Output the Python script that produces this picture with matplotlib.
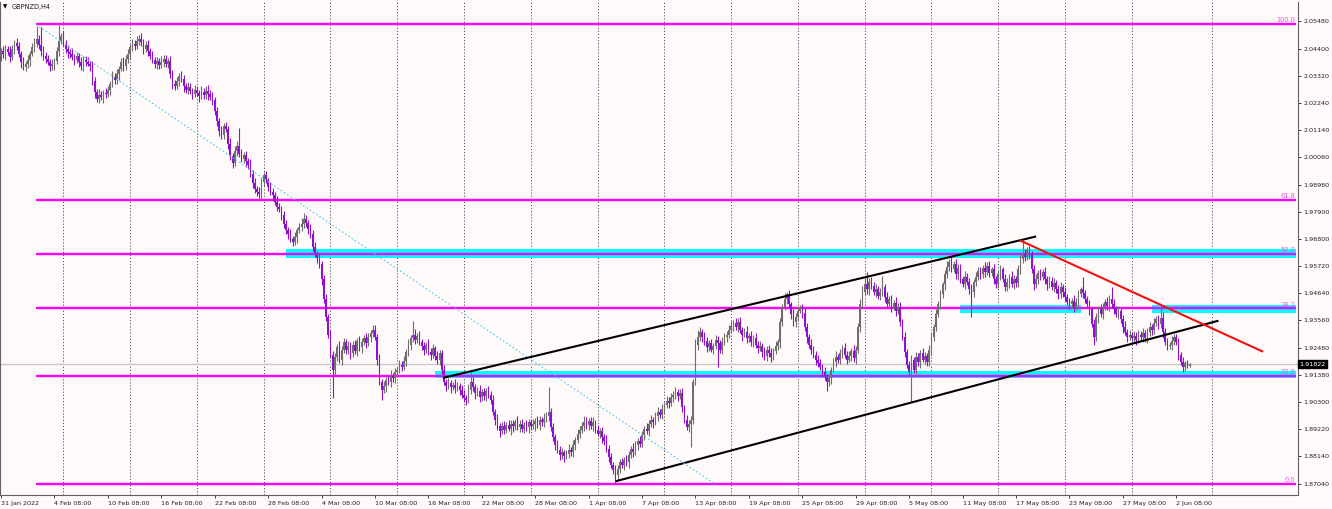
import matplotlib
matplotlib.use("Agg")
import matplotlib.pyplot as plt
import numpy as np

# GBPNZD H4 closes, one per bar (bar 0 = 31 Jan 2022 00:00)
closes = [
    2.0425, 2.0410, 2.0432, 2.0418, 2.0440, 2.0428, 2.0405, 2.0440, 2.0462, 2.0450,
    2.0420, 2.0385, 2.0368, 2.0378, 2.0395, 2.0420, 2.0445, 2.0460, 2.0478, 2.0455,
    2.0430, 2.0410, 2.0398, 2.0385, 2.0370, 2.0378, 2.0390, 2.0430, 2.0470, 2.0490,
    2.0460, 2.0440, 2.0425, 2.0418, 2.0405, 2.0395, 2.0410, 2.0385, 2.0372, 2.0395,
    2.0388, 2.0380, 2.0370, 2.0310, 2.0265, 2.0240, 2.0255, 2.0245, 2.0262, 2.0258,
    2.0275, 2.0300, 2.0328, 2.0315, 2.0340, 2.0360, 2.0385, 2.0370, 2.0400, 2.0420,
    2.0445, 2.0460, 2.0450, 2.0472, 2.0480, 2.0465, 2.0440, 2.0455, 2.0430, 2.0410,
    2.0395, 2.0380, 2.0390, 2.0375, 2.0385, 2.0398, 2.0380, 2.0390, 2.0340, 2.0300,
    2.0290, 2.0310, 2.0330, 2.0320, 2.0290, 2.0275, 2.0285, 2.0270, 2.0260, 2.0275,
    2.0262, 2.0250, 2.0268, 2.0255, 2.0270, 2.0258, 2.0245, 2.0235, 2.0190, 2.0150,
    2.0110, 2.0095, 2.0130, 2.0120, 2.0060, 2.0010, 1.9985, 2.0030, 2.0050, 2.0020,
    2.0000, 2.0015, 1.9990, 1.9975, 1.9940, 1.9905, 1.9880, 1.9870, 1.9860, 1.9910,
    1.9935, 1.9915, 1.9890, 1.9870, 1.9855, 1.9830, 1.9810, 1.9800, 1.9775, 1.9740,
    1.9715, 1.9700, 1.9680, 1.9670, 1.9690, 1.9715, 1.9730, 1.9740, 1.9760, 1.9745,
    1.9720, 1.9700, 1.9650, 1.9620, 1.9605, 1.9580, 1.9520, 1.9440, 1.9370, 1.9300,
    1.9220, 1.9160, 1.9210, 1.9250, 1.9200, 1.9240, 1.9270, 1.9240, 1.9255, 1.9225,
    1.9260, 1.9235, 1.9275, 1.9250, 1.9270, 1.9285, 1.9265, 1.9290, 1.9305, 1.9320,
    1.9290, 1.9200, 1.9110, 1.9080, 1.9095, 1.9120, 1.9110, 1.9135, 1.9125, 1.9150,
    1.9160, 1.9180, 1.9170, 1.9195, 1.9230, 1.9260, 1.9285, 1.9300, 1.9280, 1.9295,
    1.9270, 1.9255, 1.9240, 1.9260, 1.9230, 1.9220, 1.9245, 1.9215, 1.9200, 1.9225,
    1.9160, 1.9110, 1.9095, 1.9105, 1.9090, 1.9100, 1.9085, 1.9095, 1.9080, 1.9060,
    1.9045, 1.9040, 1.9080, 1.9110, 1.9090, 1.9065, 1.9075, 1.9050, 1.9070, 1.9055,
    1.9075, 1.9060, 1.9040, 1.8990, 1.8960, 1.8935, 1.8915, 1.8935, 1.8920, 1.8940,
    1.8925, 1.8945, 1.8935, 1.8950, 1.8930, 1.8945, 1.8925, 1.8940, 1.8930, 1.8950,
    1.8935, 1.8945, 1.8955, 1.8940, 1.8960, 1.8950, 1.8965, 1.8975, 1.8990, 1.8930,
    1.8890, 1.8860, 1.8840, 1.8820, 1.8830, 1.8815, 1.8825, 1.8840, 1.8830, 1.8860,
    1.8880, 1.8905, 1.8920, 1.8935, 1.8950, 1.8940, 1.8955, 1.8935, 1.8950, 1.8920,
    1.8905, 1.8915, 1.8890, 1.8875, 1.8845, 1.8810, 1.8780, 1.8760, 1.8740, 1.8765,
    1.8790, 1.8780, 1.8800, 1.8790, 1.8820, 1.8845, 1.8830, 1.8860, 1.8875, 1.8865,
    1.8900, 1.8925, 1.8915, 1.8945, 1.8960, 1.8950, 1.8975, 1.8990, 1.8980, 1.9005,
    1.9020, 1.9035, 1.9025, 1.9050, 1.9060, 1.9070, 1.9055, 1.9065, 1.9010, 1.8960,
    1.8930, 1.8945, 1.8960, 1.9110, 1.9260, 1.9290, 1.9310, 1.9290, 1.9275, 1.9250,
    1.9265, 1.9240, 1.9255, 1.9280, 1.9265, 1.9240, 1.9270, 1.9290, 1.9300, 1.9320,
    1.9335, 1.9345, 1.9330, 1.9350, 1.9320, 1.9300, 1.9310, 1.9285, 1.9295, 1.9270,
    1.9285, 1.9260, 1.9245, 1.9255, 1.9230, 1.9215, 1.9240, 1.9225, 1.9210, 1.9235,
    1.9255, 1.9270, 1.9350, 1.9410, 1.9440, 1.9460, 1.9420, 1.9380, 1.9350, 1.9370,
    1.9395, 1.9410, 1.9385, 1.9330, 1.9290, 1.9260, 1.9240, 1.9220, 1.9200, 1.9185,
    1.9170, 1.9150, 1.9130, 1.9110, 1.9125, 1.9160, 1.9190, 1.9210, 1.9200, 1.9225,
    1.9245, 1.9220, 1.9200, 1.9215, 1.9235, 1.9205, 1.9240, 1.9330, 1.9420, 1.9470,
    1.9500, 1.9480, 1.9510, 1.9495, 1.9470, 1.9480, 1.9455, 1.9470, 1.9490, 1.9450,
    1.9420, 1.9440, 1.9410, 1.9425, 1.9395, 1.9410, 1.9350, 1.9290, 1.9230, 1.9180,
    1.9150, 1.9200, 1.9160, 1.9210, 1.9190, 1.9225, 1.9200, 1.9215, 1.9190, 1.9240,
    1.9290, 1.9330, 1.9380, 1.9420, 1.9460, 1.9500, 1.9540, 1.9570, 1.9590, 1.9560,
    1.9580, 1.9540, 1.9565, 1.9520, 1.9500, 1.9530, 1.9510, 1.9480, 1.9470, 1.9510,
    1.9530, 1.9555, 1.9540, 1.9565, 1.9550, 1.9575, 1.9545, 1.9560, 1.9520, 1.9500,
    1.9540, 1.9560, 1.9520, 1.9490, 1.9510, 1.9530, 1.9500, 1.9520, 1.9505, 1.9560,
    1.9600, 1.9620, 1.9610, 1.9635, 1.9620, 1.9560, 1.9500, 1.9520, 1.9545, 1.9530,
    1.9550, 1.9520, 1.9500, 1.9515, 1.9490, 1.9505, 1.9480, 1.9460, 1.9490, 1.9470,
    1.9450, 1.9430, 1.9420, 1.9435, 1.9410, 1.9430, 1.9460, 1.9480, 1.9465, 1.9440,
    1.9420, 1.9400, 1.9340, 1.9290, 1.9370, 1.9400, 1.9380, 1.9410, 1.9430, 1.9415,
    1.9440, 1.9420, 1.9400, 1.9380, 1.9395, 1.9360, 1.9330, 1.9310, 1.9290, 1.9300,
    1.9285, 1.9295, 1.9280, 1.9300, 1.9290, 1.9305, 1.9285, 1.9310, 1.9330, 1.9320,
    1.9345, 1.9360, 1.9340, 1.9365, 1.9310, 1.9270, 1.9255, 1.9260, 1.9275, 1.9290,
    1.9270, 1.9220, 1.9190, 1.9170, 1.9185, 1.9175, 1.91822,
]
first_open = 2.0430

# wick lengths in points (0.0001) above body top / below body bottom
wick_up = [
    14, 18, 11, 20, 15, 12, 22, 16, 13, 19,
    17, 12, 21, 14, 19, 11, 16, 23, 52, 18,
    71, 20, 15, 18, 13, 22, 14, 17, 64, 11,
    19, 13, 16, 12, 24, 15, 18, 11, 20, 14,
    14, 18, 11, 20, 15, 12, 22, 16, 13, 19,
    17, 12, 21, 14, 19, 11, 16, 23, 13, 18,
    12, 20, 15, 18, 13, 22, 14, 17, 21, 11,
    19, 13, 16, 12, 24, 15, 18, 11, 20, 14,
    14, 18, 11, 20, 15, 12, 22, 16, 13, 19,
    17, 12, 21, 14, 19, 25, 16, 23, 13, 18,
    12, 20, 15, 18, 13, 22, 14, 20, 21, 73,
    19, 13, 16, 12, 24, 15, 18, 11, 20, 14,
    14, 18, 11, 20, 15, 12, 22, 16, 13, 19,
    17, 12, 21, 14, 19, 11, 16, 23, 25, 18,
    12, 20, 15, 18, 13, 22, 14, 17, 21, 11,
    19, 13, 16, 12, 24, 15, 18, 11, 20, 14,
    14, 18, 11, 20, 15, 12, 22, 16, 13, 19,
    17, 12, 21, 14, 19, 11, 16, 23, 13, 18,
    12, 20, 15, 18, 13, 22, 14, 55, 21, 11,
    19, 13, 16, 12, 24, 15, 18, 11, 20, 14,
    14, 18, 11, 20, 15, 12, 22, 16, 13, 19,
    17, 12, 21, 50, 19, 11, 16, 23, 13, 18,
    12, 20, 15, 18, 13, 22, 14, 17, 21, 11,
    19, 13, 16, 12, 24, 15, 18, 11, 20, 14,
    14, 18, 11, 20, 15, 12, 22, 16, 100, 19,
    17, 12, 21, 14, 19, 11, 16, 23, 13, 18,
    12, 20, 15, 18, 25, 22, 14, 17, 21, 11,
    19, 13, 16, 12, 24, 15, 18, 11, 20, 14,
    14, 18, 11, 20, 15, 12, 22, 16, 13, 19,
    17, 12, 21, 14, 19, 11, 16, 23, 13, 18,
    12, 20, 15, 18, 13, 22, 14, 17, 21, 11,
    19, 13, 16, 12, 24, 30, 18, 11, 20, 14,
    14, 18, 11, 20, 15, 12, 22, 16, 13, 19,
    17, 12, 21, 14, 19, 11, 16, 23, 13, 18,
    12, 20, 15, 18, 13, 22, 14, 17, 21, 11,
    19, 13, 16, 12, 24, 8, 18, 11, 20, 14,
    14, 8, 11, 20, 15, 12, 22, 16, 13, 19,
    17, 12, 21, 14, 19, 11, 16, 23, 13, 18,
    12, 20, 15, 18, 13, 22, 14, 17, 21, 25,
    30, 50, 15, 18, 13, 22, 14, 17, 45, 11,
    19, 13, 16, 12, 24, 15, 18, 11, 20, 14,
    14, 18, 11, 20, 15, 12, 22, 16, 13, 19,
    17, 12, 21, 14, 19, 11, 16, 23, 13, 20,
    12, 20, 15, 18, 13, 22, 14, 17, 21, 11,
    19, 13, 16, 12, 24, 15, 18, 11, 20, 14,
    14, 18, 11, 20, 15, 12, 22, 16, 13, 19,
    17, 55, 21, 14, 19, 11, 16, 23, 13, 18,
    12, 20, 15, 18, 13, 22, 14, 17, 21, 11,
    19, 13, 16, 12, 24, 15, 18, 11, 50, 14,
    14, 18, 11, 20, 15, 12, 22, 16, 13, 19,
    17, 50, 21, 14, 19, 11, 16, 23, 13, 18,
    12, 20, 15, 18, 13, 22, 14, 17, 21, 11,
    19, 13, 16, 45, 24, 15, 18, 11, 20, 14,
    14, 18, 11, 20, 10, 12, 6,
]
wick_dn = [
    16, 11, 19, 14, 22, 13, 17, 12, 20, 15,
    13, 21, 12, 18, 15, 24, 11, 19, 14, 17,
    20, 14, 17, 11, 19, 16, 22, 13, 18, 12,
    11, 17, 23, 15, 12, 20, 14, 18, 16, 21,
    16, 11, 19, 14, 22, 13, 17, 12, 20, 15,
    13, 21, 12, 18, 15, 24, 11, 19, 14, 17,
    20, 14, 17, 11, 19, 16, 22, 13, 18, 12,
    11, 17, 23, 15, 12, 20, 14, 18, 16, 21,
    16, 11, 19, 14, 22, 13, 17, 12, 20, 15,
    13, 21, 12, 18, 15, 24, 11, 19, 14, 17,
    20, 14, 17, 11, 19, 16, 22, 13, 18, 12,
    11, 17, 23, 15, 12, 20, 14, 18, 16, 21,
    16, 11, 19, 14, 22, 13, 17, 12, 20, 15,
    13, 21, 12, 18, 15, 24, 11, 19, 14, 17,
    20, 14, 17, 11, 19, 16, 22, 13, 18, 12,
    11, 115, 23, 15, 12, 20, 14, 18, 16, 21,
    16, 11, 19, 14, 22, 13, 17, 12, 20, 15,
    13, 21, 12, 40, 15, 24, 11, 19, 14, 17,
    20, 14, 17, 11, 19, 16, 22, 13, 18, 12,
    11, 17, 23, 15, 12, 20, 14, 18, 16, 21,
    16, 11, 19, 14, 22, 13, 17, 12, 20, 15,
    13, 21, 12, 18, 15, 24, 11, 19, 14, 17,
    20, 14, 17, 11, 19, 16, 22, 13, 18, 12,
    11, 25, 23, 15, 12, 20, 14, 18, 16, 21,
    16, 11, 28, 14, 22, 13, 17, 12, 20, 15,
    13, 21, 12, 20, 15, 24, 11, 19, 14, 17,
    20, 14, 17, 11, 19, 16, 22, 13, 18, 12,
    11, 17, 23, 15, 12, 20, 14, 18, 30, 21,
    16, 11, 19, 14, 22, 13, 17, 12, 20, 15,
    13, 21, 12, 18, 15, 24, 11, 19, 14, 17,
    20, 14, 17, 11, 19, 16, 22, 13, 18, 12,
    11, 17, 95, 15, 12, 20, 14, 18, 16, 21,
    16, 11, 19, 14, 95, 13, 17, 12, 20, 15,
    13, 21, 12, 18, 15, 24, 11, 19, 14, 17,
    20, 14, 17, 11, 19, 16, 22, 13, 18, 12,
    11, 17, 23, 15, 12, 20, 14, 18, 16, 21,
    16, 11, 19, 14, 22, 13, 17, 12, 20, 15,
    13, 21, 12, 35, 15, 24, 11, 19, 14, 17,
    20, 14, 17, 11, 19, 16, 22, 13, 18, 12,
    11, 17, 23, 15, 12, 20, 14, 18, 16, 21,
    16, 11, 19, 14, 22, 13, 17, 12, 20, 15,
    13, 120, 12, 18, 15, 24, 11, 19, 14, 17,
    20, 14, 17, 11, 19, 16, 22, 13, 18, 12,
    11, 17, 23, 15, 12, 20, 14, 18, 100, 21,
    16, 11, 19, 14, 22, 13, 17, 12, 20, 15,
    13, 21, 12, 18, 15, 24, 11, 19, 14, 17,
    20, 14, 17, 11, 19, 16, 22, 13, 18, 12,
    11, 17, 23, 15, 12, 20, 14, 18, 16, 21,
    16, 11, 19, 14, 22, 13, 17, 12, 20, 15,
    13, 21, 12, 30, 15, 24, 11, 19, 14, 17,
    20, 14, 17, 11, 19, 16, 22, 13, 18, 12,
    11, 17, 23, 15, 12, 20, 14, 18, 16, 21,
    16, 11, 19, 14, 22, 13, 17, 12, 20, 15,
    13, 21, 12, 20, 15, 10, 6,
]
assert len(closes) == len(wick_up) == len(wick_dn), (len(closes), len(wick_up), len(wick_dn))

price_ticks = [2.0548, 2.0440, 2.0332, 2.0224, 2.0114, 2.0006, 1.9898, 1.9790, 1.9680,
               1.9572, 1.9464, 1.9356, 1.9248, 1.9138, 1.9030, 1.8922, 1.8814, 1.8704]
date_bars = [26, 50, 74, 98, 122, 146, 170, 194, 218, 242, 266, 290, 314, 338, 362,
             386, 410, 434, 458, 482, 506, 530]
date_labels = ["4 Feb 08:00", "10 Feb 08:00", "16 Feb 08:00", "22 Feb 08:00", "28 Feb 08:00",
               "4 Mar 08:00", "10 Mar 08:00", "16 Mar 08:00", "22 Mar 08:00", "28 Mar 08:00",
               "1 Apr 08:00", "7 Apr 08:00", "13 Apr 08:00", "19 Apr 08:00", "25 Apr 08:00",
               "29 Apr 08:00", "5 May 08:00", "11 May 08:00", "17 May 08:00", "23 May 08:00",
               "27 May 08:00", "2 Jun 08:00"]
grid_bars = [30, 60, 90, 120, 150, 180, 210, 240, 270, 300, 330, 360, 390, 420, 450, 480, 510, 546]

# fibonacci retracement from the February high to the April low
fib_high, fib_low = 2.0537, 1.8704
fib_levels = [100.0, 61.8, 50.0, 38.2, 23.6, 0.0]
fib_start = 17.7
# cyan zones: (bar from, bar to, price low, price high)
zones = [(129.9, 584.0, 1.9604, 1.9641),
         (433.0, 487.2, 1.9384, 1.9416),
         (519.1, 584.0, 1.9386, 1.9418),
         (197.0, 584.0, 1.9128, 1.9154)]
# drawn trend lines: (bar1, price1, bar2, price2)
channel_top = (201.0, 1.9128, 466.6, 1.9690)
channel_bottom = (278.6, 1.8716, 548.5, 1.9354)
red_line = (460.1, 1.9674, 568.6, 1.9233)
fib_diag = (17.7, 2.0536, 323.2, 1.8701)
last_price = 1.91822

bg = "#FFFAFA"
fig = plt.figure(figsize=(13.32, 5.09), dpi=100, facecolor=bg)
ax = fig.add_axes([0, 14 / 509, 1298 / 1332, 493 / 509], facecolor=bg)
ax.set_xlim(1.53, 584.7)
ax.set_ylim(1.86602, 2.06257)

c = np.array(closes)
o = np.concatenate([[first_open], c[:-1]])
x = np.arange(len(c))
top = np.maximum(o, c)
bot = np.minimum(o, c)
hi = top + np.array(wick_up) * 1e-4
lo = bot - np.array(wick_dn) * 1e-4
up = c >= o

ax.vlines(grid_bars, 0, 1, transform=ax.get_xaxis_transform(), colors="#505050",
          linestyles=(0, (1.2, 2)), lw=0.7, zorder=1)

for x1, x2, p1, p2 in zones:
    ax.fill_between([x1, x2], p1, p2, color="#00FFFF", lw=0, zorder=2)

ax.axhline(last_price, color="#C8C8C8", lw=1.0, zorder=2)

for lev in fib_levels:
    p = fib_low + (fib_high - fib_low) * lev / 100
    ax.plot([fib_start, 584.0], [p, p], color="#FF00FF", lw=1.7, zorder=3, solid_capstyle="butt")
    ax.text(583.6, p + 0.0003, f"{lev:.1f}", color="#F050F0", fontsize=4.8,
            ha="right", va="bottom", zorder=6)

bull_c, bear_c = "#6E6E6E", "#9010D0"
ax.vlines(x[up], lo[up], hi[up], colors=bull_c, lw=0.8, zorder=4)
ax.vlines(x[~up], lo[~up], hi[~up], colors=bear_c, lw=0.8, zorder=4)
h = np.maximum(top - bot, 0.00012)
ax.bar(x[up], h[up], bottom=bot[up], width=0.72, color=bull_c, lw=0, zorder=4)
ax.bar(x[~up], h[~up], bottom=bot[~up], width=0.72, color=bear_c, lw=0, zorder=4)

for (b1, p1, b2, p2), col in [(channel_top, "black"), (channel_bottom, "black"), (red_line, "#F01010")]:
    ax.plot([b1, b2], [p1, p2], color=col, lw=1.5, zorder=5)
b1, p1, b2, p2 = fib_diag
ax.plot([b1, b2], [p1, p2], color="#50C8F5", lw=0.8, ls=(0, (1.5, 2)), zorder=5)

ax.spines["top"].set_visible(False)
for s in ["left", "right", "bottom"]:
    ax.spines[s].set_color("#606060")
    ax.spines[s].set_linewidth(0.8)

ax.yaxis.tick_right()
ax.set_yticks(price_ticks, [f"{v:.5f}" for v in price_ticks])
ax.tick_params(axis="y", length=2.5, width=0.6, pad=1.5, labelsize=4.6, colors="#202020")
ax.set_xticks([1.8] + date_bars, ["31 Jan 2022"] + date_labels)
ax.tick_params(axis="x", length=2.5, width=0.6, pad=1.5, labelsize=4.6, colors="#202020")
for lbl in ax.get_xticklabels():
    lbl.set_ha("left")

ax.text(1.0 + 1.5 / 1298, last_price, f"{last_price:.5f}", transform=ax.get_yaxis_transform(),
        color="white", fontsize=4.6, ha="left", va="center",
        bbox=dict(boxstyle="square,pad=0.2", fc="black", ec="black"), clip_on=False)

fig.text(3 / 1332, 1 - 7 / 509, "\u25bc", fontsize=4, va="center", ha="left", color="black")
fig.text(12 / 1332, 1 - 7 / 509, "GBPNZD,H4", fontsize=4.8, va="center", ha="left", color="#202020")

fig.savefig("out.png", dpi=100, facecolor=bg)
